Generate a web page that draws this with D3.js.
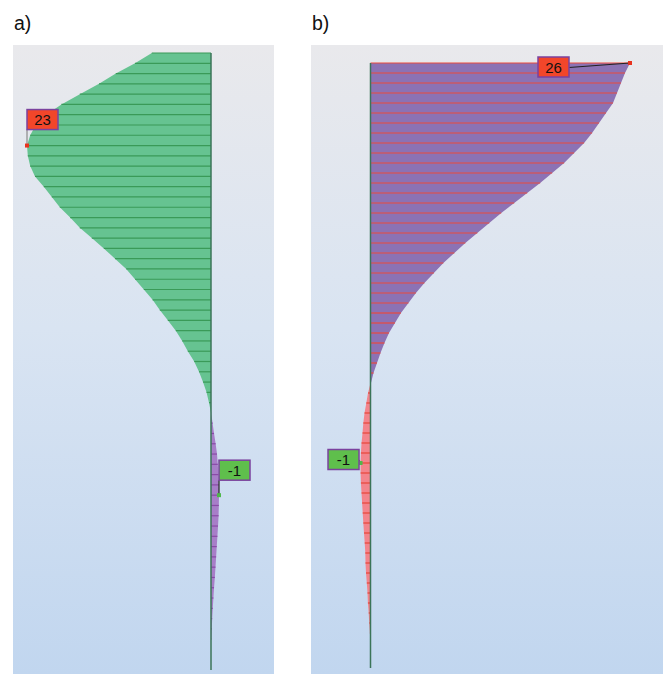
<!DOCTYPE html>
<html>
<head>
<meta charset="utf-8">
<script src="https://cdn.jsdelivr.net/npm/d3@7"></script>
<style>
	body { margin: 0; background: #fff; }
	svg { display: block; font-family: 'Liberation Sans', Arial, sans-serif; }
</style>
</head>
<body>
<div id="chart"></div>
<script>
// station depths (m) and values
var depthA = [ 0, 0.5, 1, 1.5, 2, 2.5, 3, 3.5, 4, 4.5, 5, 5.5, 6, 6.5, 7, 7.5, 8, 8.5, 9, 9.5,
	10, 10.5, 11, 11.5, 12, 12.5, 13, 13.5, 14, 14.5, 15, 15.5, 16, 16.5, 17, 17.5, 18, 18.5, 19, 19.5,
	20, 20.5, 21, 21.5, 22, 22.5, 23, 23.5, 24, 24.5, 25, 25.5, 26, 26.5, 27, 27.5, 28, 28.5 ];
var valueA = [ 7.4, 9.5, 11.9, 14.0, 16.4, 18.7, 20.6, 21.9, 22.6, 23.0,
	22.9, 22.6, 22.0, 20.9, 19.9, 18.9, 17.6, 16.4, 14.9, 13.4,
	12.0, 10.6, 9.5, 8.4, 7.3, 6.4, 5.4, 4.4, 3.6, 2.9,
	2.1, 1.5, 1.0, 0.56, 0.25, -0.02, -0.2, -0.38, -0.58, -0.75,
	-0.85, -0.92, -0.97, -1.0, -0.98, -0.95, -0.88, -0.8, -0.72, -0.64,
	-0.56, -0.48, -0.38, -0.3, -0.22, -0.15, -0.1, -0.05 ];

var depthB = [ 0, 0.5, 1, 1.5, 2, 2.5, 3, 3.5, 4, 4.5, 5, 5.5, 6, 6.5, 7, 7.5, 8, 8.5, 9, 9.5,
	10, 10.5, 11, 11.5, 12, 12.5, 13, 13.5, 14, 14.5, 15, 15.5, 16, 16.5, 17, 17.5, 18, 18.5, 19, 19.5,
	20, 20.5, 21, 21.5, 22, 22.5, 23, 23.5, 24, 24.5, 25, 25.5, 26, 26.5, 27, 27.5, 28, 28.5, 29 ];
var valueB = [ 26, 25.5, 25.1, 24.7, 24.3, 23.6, 22.9, 22.2, 21.4, 20.4,
	19.4, 18.2, 17.0, 15.7, 14.4, 13.1, 11.9, 10.7, 9.5, 8.4,
	7.3, 6.35, 5.4, 4.55, 3.8, 3.05, 2.45, 1.85, 1.4, 1.0,
	0.65, 0.3, 0.05, -0.25, -0.42, -0.6, -0.72, -0.8, -0.9, -0.96,
	-1.0, -0.99, -0.96, -0.9, -0.84, -0.78, -0.72, -0.65, -0.58, -0.52,
	-0.5, -0.45, -0.37, -0.3, -0.26, -0.18, -0.13, -0.06, 0 ];

var panelTitles = [ 'a)', 'b)' ];

var width = 667;
var height = 674;

var svg = d3.select('#chart').append('svg').attr('width', width).attr('height', height);

var grad = svg.append('defs').append('linearGradient')
	.attr('id', 'bg').attr('x1', 0).attr('y1', 0).attr('x2', 0).attr('y2', 1);
grad.append('stop').attr('offset', '0%').attr('stop-color', '#e9e9ec');
grad.append('stop').attr('offset', '45%').attr('stop-color', '#d9e4f2');
grad.append('stop').attr('offset', '100%').attr('stop-color', '#c1d6ef');

var panels = [
	{
		title: panelTitles[0], box: [ 13, 45, 261, 629 ], titleX: 14,
		depth: depthA, value: valueA,
		x: d3.scaleLinear().domain([ 0, 23 ]).range([ 211, 27 ]),
		y: d3.scaleLinear().domain([ 0, 30 ]).range([ 53, 670 ]),
		pos: { fill: '#66c391', line: '#3a9a58' },
		neg: { fill: '#a77ec8', line: '#8a4aa8' },
		tagMax: { fill: '#f2462a', dx: 0, dy: -36, lead: 'left', leader: '#8a8a8a', mark: '#e8321e' },
		tagMin: { fill: '#5fbf4c', dx: 0, dy: -35, lead: 'left', leader: '#222', mark: '#4fb84a' }
	},
	{
		title: panelTitles[1], box: [ 311, 45, 352, 629 ], titleX: 312,
		depth: depthB, value: valueB,
		x: d3.scaleLinear().domain([ 0, 26 ]).range([ 370.5, 630 ]),
		y: d3.scaleLinear().domain([ 0, 30.25 ]).range([ 63, 668 ]),
		pos: { fill: '#8c72b4', line: '#ea4a3c' },
		neg: { fill: '#f3848c', line: '#e8453a' },
		tagMax: { fill: '#f2462a', dx: -92, dy: -6, lead: 'right', leader: '#222', mark: '#e8321e' },
		tagMin: { fill: '#5fbf4c', dx: -32.5, dy: -13.5, lead: 'right', leader: '#555', mark: '#4fb84a' }
	}
];

panels.forEach(function(p) {
	var g = svg.append('g');
	var b = p.box;
	g.append('rect').attr('x', b[0]).attr('y', b[1]).attr('width', b[2]).attr('height', b[3])
		.attr('fill', 'url(#bg)');

	svg.append('text').attr('x', p.titleX).attr('y', 30)
		.attr('font-size', 19.5).attr('fill', '#111').text(p.title);

	var rows = p.depth.map((d, i) => ({ d: d, v: p.value[i] }));

	var areaPos = d3.area()
		.y((r) => p.y(r.d))
		.x0(p.x(0))
		.x1((r) => p.x(Math.max(r.v, 0)));
	var areaNeg = d3.area()
		.y((r) => p.y(r.d))
		.x0(p.x(0))
		.x1((r) => p.x(Math.min(r.v, 0)));

	g.append('path').datum(rows).attr('d', areaPos).attr('fill', p.pos.fill);
	g.append('path').datum(rows).attr('d', areaNeg).attr('fill', p.neg.fill);

	// station lines
	g.append('g').selectAll('line').data(rows.filter((r) => r.v !== 0)).enter().append('line')
		.attr('x1', p.x(0))
		.attr('x2', (r) => p.x(r.v))
		.attr('y1', (r) => p.y(r.d))
		.attr('y2', (r) => p.y(r.d))
		.attr('stroke', (r) => (r.v > 0 ? p.pos.line : p.neg.line))
		.attr('stroke-width', 1.2);

	// baseline
	g.append('line')
		.attr('x1', p.x(0)).attr('x2', p.x(0))
		.attr('y1', p.y.range()[0]).attr('y2', p.y.range()[1])
		.attr('stroke', '#3b7458').attr('stroke-width', 1.5);

	var maxRow = rows.reduce((a, r) => (r.v > a.v ? r : a));
	var minRow = rows.reduce((a, r) => (r.v < a.v ? r : a));

	drawTag(g, p, maxRow, p.tagMax);
	drawTag(g, p, minRow, p.tagMin);
});

function drawTag(g, p, row, t) {
	var mx = p.x(row.v);
	var my = p.y(row.d);
	var bw = 31, bh = 20;
	var bx = mx + t.dx;
	var by = my + t.dy;

	if (t.lead === 'left') {
		g.append('line').attr('x1', bx).attr('x2', mx).attr('y1', by + bh).attr('y2', my)
			.attr('stroke', t.leader).attr('stroke-width', 1.2);
	} else {
		g.append('line').attr('x1', bx + bw).attr('x2', mx).attr('y1', by + bh / 2 + 0.5).attr('y2', my)
			.attr('stroke', t.leader).attr('stroke-width', 1.2);
	}

	g.append('rect').attr('x', mx - 2).attr('y', my - 2).attr('width', 4).attr('height', 4)
		.attr('fill', t.mark);

	g.append('rect').attr('x', bx).attr('y', by).attr('width', bw).attr('height', bh)
		.attr('fill', t.fill).attr('stroke', '#7b429e').attr('stroke-width', 1.5);

	g.append('text').attr('x', bx + bw / 2).attr('y', by + bh / 2 + 5.5)
		.attr('text-anchor', 'middle').attr('font-size', 15).attr('fill', '#111')
		.text(Math.round(row.v));
}
</script>
</body>
</html>
